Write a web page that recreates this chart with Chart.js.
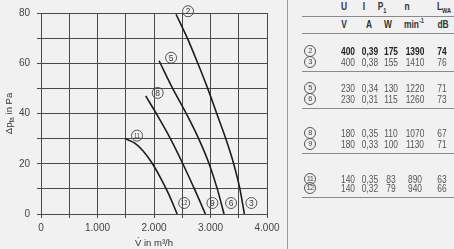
<!DOCTYPE html>
<html><head><meta charset="utf-8">
<script src="https://cdn.jsdelivr.net/npm/chart.js@4/dist/chart.umd.min.js"></script>
<style>
html,body{margin:0;padding:0;background:#f1f1f1;width:454px;height:249px;overflow:hidden;font-family:"Liberation Sans",Arial,sans-serif;}
#wrap{position:absolute;left:0;top:0;width:288px;height:249px;}
#divider{position:absolute;left:287px;top:0;width:1px;height:249px;background:#9a9a9a;}
.c{position:absolute;white-space:nowrap;transform:translate(-50%,-50%) scaleX(0.8);font-size:10.5px;line-height:11px;color:#555;}
.h{font-weight:bold;color:#333;}
.b{font-weight:bold;color:#222;}
.hl{position:absolute;left:302px;width:152px;height:1px;background:#8a8a8a;}
.circ{position:absolute;width:10px;height:10px;border:1px solid #555;border-radius:50%;transform:translate(-50%,-50%);font-size:7.5px;line-height:10px;text-align:center;color:#444;letter-spacing:-0.7px;}
sub,sup{font-size:7px;line-height:0;}
</style></head>
<body>
<div id="wrap"><canvas id="c" width="288" height="249"></canvas></div>
<div id="divider"></div>
<div id="table"></div>
<script>
// ---- chart data ----
const xTickValues = [0, 1000, 2000, 3000, 4000];
const yTickValues = [0, 20, 40, 60, 80];
const topLabels = ['2', '5', '8', '11'];
const bottomLabels = ['3', '6', '9', '12'];
const flow23 = [2390, 2590, 2775, 2950, 3110, 3270, 3410, 3520, 3600];
const pres23 = [79.5, 70, 60, 50, 40, 30, 20, 10, 0];
const flow56 = [2090, 2330, 2570, 2790, 2975, 3120, 3240];
const pres56 = [61, 50, 40, 30, 20, 10, 0];
const flow89 = [1853, 2040, 2290, 2510, 2715, 2910];
const pres89 = [47, 40, 30, 20, 10, 0];
const flow1112 = [1487, 1660, 1811, 1959, 2106, 2254, 2410];
const pres1112 = [30, 28.2, 25, 20.5, 14.8, 8.2, 0];
// ---- table data ----
const tableIds = ['2', '3', '5', '6', '8', '9', '11', '12'];
const tableU = ['400', '400', '230', '230', '180', '180', '140', '140'];
const tableI = ['0,39', '0,38', '0,34', '0,31', '0,35', '0,33', '0,35', '0,32'];
const tableP = ['175', '155', '130', '115', '110', '100', '83', '79'];
const tableN = ['1390', '1410', '1220', '1260', '1070', '1130', '890', '940'];
const tableL = ['74', '76', '71', '73', '67', '71', '63', '66'];

const curves = [[flow23, pres23], [flow56, pres56], [flow89, pres89], [flow1112, pres1112]];
function fmt(v){ return v === 0 ? '0' : (Math.floor(v/1000) + '.' + String(v%1000).padStart(3,'0')); }

const datasets = curves.map(([fx, py]) => ({
  data: fx.map((x, i) => ({x: x, y: py[i]})),
  showLine: true, borderColor: '#1e1e1e', borderWidth: 1.6, pointRadius: 0,
  cubicInterpolationMode: 'monotone', fill: false
}));

function circledLabel(ctx, x, y, txt){
  ctx.save();
  ctx.beginPath(); ctx.arc(x, y, 5.5, 0, Math.PI*2);
  ctx.strokeStyle = '#444'; ctx.lineWidth = 0.9; ctx.stroke();
  ctx.fillStyle = '#333';
  ctx.font = (txt.length > 1 ? '7px' : '8.5px') + ' "Liberation Sans", Arial, sans-serif';
  ctx.textAlign = 'center'; ctx.textBaseline = 'middle';
  if (txt.length > 1) { ctx.save(); ctx.translate(x, y + 0.5); ctx.scale(0.8, 1); ctx.fillText(txt, 0, 0); ctx.restore(); }
  else ctx.fillText(txt, x, y + 0.5);
  ctx.restore();
}

const labelPlugin = {
  id: 'labels',
  afterDatasetsDraw(chart){
    const ctx = chart.ctx, xs = chart.scales.x, ys = chart.scales.y;
    curves.forEach(([fx, py], i) => {
      const sx = xs.getPixelForValue(fx[0]), sy = ys.getPixelForValue(py[0]);
      circledLabel(ctx, sx + 12, sy - 3, topLabels[i]);
      const ex = xs.getPixelForValue(fx[fx.length-1]), ey = ys.getPixelForValue(py[py.length-1]);
      circledLabel(ctx, ex + 7, ey - 11, bottomLabels[i]);
    });
    // y axis title with subscript
    const ca = chart.chartArea;
    ctx.save();
    ctx.translate(9, (ca.top + ca.bottom) / 2);
    ctx.rotate(-Math.PI/2);
    ctx.fillStyle = '#333';
    ctx.textBaseline = 'middle';
    const big = '9.5px "Liberation Sans", Arial, sans-serif', small = '6.5px "Liberation Sans", Arial, sans-serif';
    ctx.font = big; const w1 = ctx.measureText('Δp').width, w3 = ctx.measureText(' in Pa').width;
    ctx.font = small; const w2 = ctx.measureText('fa').width;
    let x0 = -(w1 + w2 + w3) / 2;
    ctx.font = big; ctx.fillText('Δp', x0, 0); x0 += w1;
    ctx.font = small; ctx.fillText('fa', x0, 3); x0 += w2;
    ctx.font = big; ctx.fillText(' in Pa', x0, 0);
    ctx.restore();
  }
};

new Chart(document.getElementById('c'), {
  type: 'scatter',
  data: {datasets},
  options: {
    responsive: false, animation: false, devicePixelRatio: 1,
    layout: {padding: {top: 8, right: 21, left: 0, bottom: 0}},
    plugins: {legend: {display: false}, tooltip: {enabled: false}},
    scales: {
      x: {
        type: 'linear', min: 0, max: 4000,
        afterBuildTicks: s => { s.ticks = []; for (let v = 0; v <= 4000; v += 500) s.ticks.push({value: v}); },
        afterFit: s => { s.height = 35; },
        ticks: {autoSkip: false, maxRotation: 0, padding: 4, color: '#444',
          font: {size: 10, family: '"Liberation Sans", Arial, sans-serif'},
          callback: v => xTickValues.includes(v) ? fmt(v) : ''},
        grid: {color: '#4a4a4a', lineWidth: 1, tickLength: 4},
        border: {color: '#4a4a4a'},
        title: {display: true, text: 'V\u0307 in m³/h', color: '#333', padding: 0,
          font: {size: 9.5, family: '"Liberation Sans", Arial, sans-serif'}}
      },
      y: {
        type: 'linear', min: 0, max: 80,
        afterBuildTicks: s => { s.ticks = []; for (let v = 0; v <= 80; v += 10) s.ticks.push({value: v}); },
        afterFit: s => { s.width = 41; },
        ticks: {autoSkip: false, padding: 7, color: '#444',
          font: {size: 10, family: '"Liberation Sans", Arial, sans-serif'},
          callback: v => yTickValues.includes(v) ? String(v) : ''},
        grid: {color: '#4a4a4a', lineWidth: 1, tickLength: 4},
        border: {color: '#4a4a4a'}
      }
    }
  },
  plugins: [labelPlugin]
});

// ---- table (HTML text) ----
const T = document.getElementById('table');
function cell(x, y, html, cls){ const d = document.createElement('div'); d.className = 'c ' + (cls||''); d.style.left = x + 'px'; d.style.top = y + 'px'; d.innerHTML = html; T.appendChild(d); }
function hline(y){ const d = document.createElement('div'); d.className = 'hl'; d.style.top = y + 'px'; T.appendChild(d); }
function circ(x, y, t){ const d = document.createElement('div'); d.className = 'circ'; d.style.left = x + 'px'; d.style.top = y + 'px'; d.textContent = t; T.appendChild(d); }
const headX = [344, 364, 382, 407, 444];
['U', 'I', 'P<sub>1</sub>', 'n', 'L<sub>WA</sub>'].forEach((h, i) => cell(headX[i], 6, h, 'h'));
const unitX = [344, 369, 388, 414, 443];
['V', 'A', 'W', 'min<sup>-1</sup>', 'dB'].forEach((h, i) => cell(unitX[i], 23.5, h, 'h'));
hline(15.5); hline(33);
const colX = [348, 370, 391, 415, 442];
const rowY = [50.7, 61.7, 88.3, 98.7, 133.3, 144, 179, 188.3];
tableIds.forEach((id, r) => {
  circ(310, rowY[r], id);
  const cls = r === 0 ? 'b' : '';
  [tableU, tableI, tableP, tableN, tableL].forEach((col, j) => cell(colX[j], rowY[r], col[r], cls));
});
[71, 108.3, 153.3, 196.7].forEach(hline);
</script>
</body></html>
